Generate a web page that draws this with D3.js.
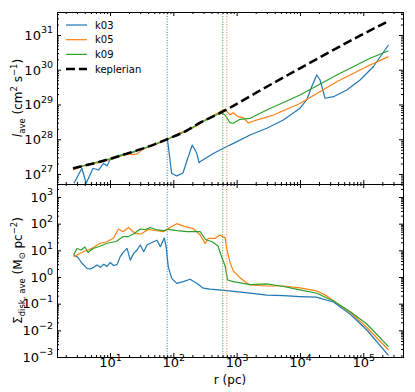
<!DOCTYPE html>
<html>
<head>
<meta charset="utf-8">
<script src="https://cdn.jsdelivr.net/npm/d3@7"></script>
<style>
body { margin: 0; background: #fff; }
svg { display: block; font-family: "DejaVu Sans", sans-serif; }
</style>
</head>
<body>
<svg id="chart" width="415" height="392"></svg>
<script>
// [r (pc), l_ave (cm^2 s^-1)]
const keplerian = [[2.6,1.46e27],[6.95,2.26e27],[23,4.38e27],[40,6.1e27],[79,9.97e27],[150,1.64e28],[265,2.99e28],
  [601,6.2e28],[1630,1.73e29],[3820,4.16e29],[1.0e4,1.1e30],[3.0e4,3.31e30],[8.9e4,9.55e30],[2.5e5,2.51e31]];

const k03Top = [[2.7,5.4e26],[3.6,1.46e27],[4.2,5.4e26],[5.4,1.46e27],[6.6,1.3e27],[7.9,2.03e27],[9.0,1.7e27],
  [9.9,2.53e27],[12.1,2.83e27],[14.6,3.52e27],[18,3.8e27],[23,4.2e27],[30,5.0e27],[43,6.3e27],[62,8.2e27],
  [74,9.6e27],[81,9.5e27],[94,1.05e27],[113,8.8e26],[142,1.07e27],[164,2.4e27],[199,6.8e27],[234,4.0e27],
  [255,2.1e27],[263,2.26e27],[428,3.9e27],[617,5.5e27],[888,7.6e27],[1630,1.32e28],[2990,2.07e28],
  [5470,3.58e28],[1.0e4,7.8e28],[1.28e4,1.35e29],[1.53e4,3.25e29],[1.84e4,7.06e29],[2.08e4,5.07e29],
  [2.49e4,1.51e29],[3.38e4,1.68e29],[5.48e4,2.61e29],[8.9e4,5.07e29],[1.44e5,1.22e30],[2.5e5,5.15e30]];

const k05Top = [[2.6,1.3e27],[4,1.75e27],[6,2.05e27],[10,2.6e27],[15,3.3e27],[20,3.8e27],[23,3.6e27],[27,3.8e27],
  [32,5.0e27],[40,5.9e27],[55,7.3e27],[70,8.6e27],[85,1.05e28],[120,1.45e28],[160,1.8e28],[200,2.1e28],
  [240,2.5e28],[300,3.4e28],[400,4.5e28],[500,5.6e28],[578,6.6e28],[656,7.2e28],[785,5.0e28],[880,5.8e28],
  [1060,4.46e28],[1270,4.2e28],[1530,2.94e28],[1950,3.47e28],[2650,4.07e28],[3800,5.0e28],[1.0e4,1.07e29],
  [3.81e4,4.53e29],[1.28e5,1.37e30],[2.5e5,2.38e30]];

const k09Top = [[2.6,1.4e27],[5,2.0e27],[10,2.72e27],[20,4.0e27],[40,6.1e27],[79,9.8e27],[150,1.62e28],
  [265,2.95e28],[450,4.8e28],[578,5.8e28],[656,4.99e28],[785,2.99e28],[886,2.88e28],[1130,3.75e28],
  [1630,4.0e28],[2990,6.95e28],[1.0e4,1.87e29],[3.81e4,7.06e29],[1.28e5,2.14e30],[2.5e5,3.53e30]];

// [r (pc), Sigma_disk,ave (Msun pc^-2)]
const k03Bot = [[2.66,6.7],[3.1,5.5],[3.6,3.3],[4.33,2.1],[4.88,2.0],[5.53,2.3],[6.24,2.8],[7.03,2.3],[7.95,3.0],
  [8.97,2.5],[10.1,3.5],[11.4,2.7],[12.9,2.9],[14.5,5.8],[16.5,8.9],[18.6,11.9],[20.9,4.3],[23.7,7.7],
  [26.7,10.3],[30.1,15.8],[34.1,8.9],[38.4,15.8],[43.3,18.4],[48.9,21],[55.2,24],[62.3,13.7],[71.9,29],
  [77,13.7],[83.2,2.4],[94.4,0.89],[113,0.58],[144,0.67],[184,0.82],[234,0.58],[298,0.38],[381,0.35],
  [700,0.31],[1630,0.25],[3000,0.21],[5500,0.2],[1.0e4,0.185],[1.8e4,0.175],[3.38e4,0.115],[6.25e4,0.04],
  [1.14e5,0.0103],[2.5e5,0.00114]];

const k05Bot = [[2.66,5.8],[3.0,6.7],[3.73,8.7],[4.5,10.3],[5.5,12.8],[6.95,18.4],[8.87,21],[11.3,28.3],
  [13.6,63],[16,50],[19.6,72],[24.8,43.5],[30.9,41],[40.5,61.5],[51.4,55.4],[69.9,50],[88.7,72],[113,100],
  [153,77],[205,66],[265,37.5],[318,18.3],[358,28.3],[457,28.3],[548,37.5],[616,32],[656,30],[700,11],
  [785,3.5],[885,1.7],[1120,0.95],[1440,0.6],[1630,0.5],[2990,0.46],[5500,0.46],[1.0e4,0.39],[1.84e4,0.3],
  [2.6e4,0.2],[3.38e4,0.13],[6.25e4,0.047],[1.14e5,0.0128],[2.5e5,0.00183]];

const k09Bot = [[2.66,6.7],[3.0,11.7],[3.48,10.3],[4.03,13.3],[4.5,8.3],[5.4,11.7],[6.95,14.2],[8.97,18.4],
  [12.5,21.4],[16,32.5],[19.3,32.5],[23.5,41],[30.1,63],[36.2,60],[43.3,72],[55.2,58],[70.4,55],[83.6,61.5],
  [114,55],[163,50],[265,50],[322,25.5],[411,21],[508,14.5],[572,6.1],[658,2.6],[720,0.77],[888,0.67],
  [1630,0.52],[2990,0.55],[5500,0.44],[1.0e4,0.33],[1.84e4,0.245],[3.38e4,0.126],[6.25e4,0.05],
  [1.14e5,0.0173],[2.5e5,0.00244]];

const seriesNames = ["k03", "k05", "k09"];
const seriesColors = ["#1f77b4", "#ff7f0e", "#2ca02c"];
const diskRadius = [80, 700, 603]; // dotted markers, one per run

const svg = d3.select("#chart");
const L = 57, R = 403, T = 12, M = 184, B = 357;

const x = d3.scaleLog().domain([1.455, 4.24e5]).range([L, R]);
const yTop = d3.scaleLog().domain([5.15e26, 4.59e31]).range([M, T]);
const yBot = d3.scaleLog().domain([1e-3, 3.07e3]).range([B, M]);

const isDecade = v => Math.abs(Math.log10(v) - Math.round(Math.log10(v))) < 1e-9;
const majors = s => s.ticks().filter(isDecade);
const minors = s => s.ticks().filter(v => !isDecade(v));

// clip regions
const defs = svg.append("defs");
defs.append("clipPath").attr("id", "clipTop").append("rect").attr("x", L).attr("y", T).attr("width", R - L).attr("height", M - T);
defs.append("clipPath").attr("id", "clipBot").append("rect").attr("x", L).attr("y", M).attr("width", R - L).attr("height", B - M);

function panel(ys, clip, runs, kep) {
  const g = svg.append("g").attr("clip-path", `url(#${clip})`);
  const line = d3.line().x(d => x(d[0])).y(d => ys(d[1]));
  runs.forEach((data, i) => {
    g.append("path").datum(data).attr("d", line)
      .attr("fill", "none").attr("stroke", seriesColors[i]).attr("stroke-width", 1.2)
      .attr("stroke-linejoin", "round");
  });
  diskRadius.forEach((r, i) => {
    g.append("line").attr("x1", x(r)).attr("x2", x(r)).attr("y1", ys.range()[0]).attr("y2", ys.range()[1])
      .attr("stroke", seriesColors[i]).attr("stroke-width", 1).attr("stroke-dasharray", "1,1.65");
  });
  if (kep) {
    g.append("path").datum(kep).attr("d", line.curve(d3.curveMonotoneX))
      .attr("fill", "none").attr("stroke", "#000").attr("stroke-width", 2.5).attr("stroke-dasharray", "9,4");
  }
}

panel(yTop, "clipTop", [k03Top, k05Top, k09Top], keplerian);
panel(yBot, "clipBot", [k03Bot, k05Bot, k09Bot], null);

// ticks (direction in, all four sides)
function tickRow(tr, axis, scale, values, size) {
  const g = svg.append("g").attr("transform", tr)
    .call(axis(scale).tickValues(values).tickSize(-size).tickFormat(""));
  g.select(".domain").remove();
  g.selectAll("text").remove();
  return g;
}
function powLabel(text, v) {
  const e = Math.round(Math.log10(v));
  text.text("10");
  text.append("tspan").attr("dy", -6.5).attr("font-size", 9.5).text(String(e).replace("-", "\u2212"));
}
function labelled(tr, axis, scale, pad) {
  const g = svg.append("g").attr("transform", tr)
    .call(axis(scale).tickValues(majors(scale)).tickSize(-4).tickPadding(pad).tickFormat(""));
  g.attr("font-family", null).attr("font-size", 13);
  g.select(".domain").remove();
  g.selectAll(".tick text").attr("fill", "#000").each(function (d) { powLabel(d3.select(this), d); });
  return g;
}

// x ticks
[[`translate(0,${T})`, d3.axisTop], [`translate(0,${M})`, d3.axisBottom], [`translate(0,${M})`, d3.axisTop]]
  .forEach(([tr, ax]) => {
    tickRow(tr, ax, x, majors(x), 4);
    tickRow(tr, ax, x, minors(x), 2);
  });
const gx = labelled(`translate(0,${B})`, d3.axisBottom, x, 2);
gx.selectAll(".tick text").attr("y", 10).attr("dy", 0);
tickRow(`translate(0,${B})`, d3.axisBottom, x, minors(x), 2);

// y ticks
[[yTop], [yBot]].forEach(([ys]) => {
  labelled(`translate(${L},0)`, d3.axisLeft, ys, 4).selectAll(".tick text").attr("dy", "0.33em");
  tickRow(`translate(${L},0)`, d3.axisLeft, ys, minors(ys), 2);
  tickRow(`translate(${R},0)`, d3.axisRight, ys, majors(ys), 4);
  tickRow(`translate(${R},0)`, d3.axisRight, ys, minors(ys), 2);
});

// frames
[[T, M], [M, B]].forEach(([a, b]) => {
  svg.append("rect").attr("x", L + 0.5).attr("y", a + 0.5).attr("width", R - L).attr("height", b - a)
    .attr("fill", "none").attr("stroke", "#000").attr("stroke-width", 1);
});

// axis labels
svg.append("text").attr("x", (L + R) / 2).attr("y", 384).attr("text-anchor", "middle")
  .attr("font-size", 12).text("r (pc)");

const yl1 = svg.append("text").attr("transform", `translate(22,${(T + M) / 2}) rotate(-90)`)
  .attr("text-anchor", "middle").attr("font-size", 12);
yl1.append("tspan").attr("font-style", "italic").text("l");
yl1.append("tspan").attr("font-size", 8.5).attr("dy", 3).text("ave");
yl1.append("tspan").attr("dy", -3).text(" (cm");
yl1.append("tspan").attr("font-size", 8.5).attr("dy", -5).text("2");
yl1.append("tspan").attr("dy", 5).text(" s");
yl1.append("tspan").attr("font-size", 8.5).attr("dy", -5).text("\u22121");
yl1.append("tspan").attr("dy", 5).text(")");

const yl2 = svg.append("text").attr("transform", `translate(22,${(M + B) / 2}) rotate(-90)`)
  .attr("text-anchor", "middle").attr("font-size", 12);
yl2.append("tspan").text("\u03a3");
yl2.append("tspan").attr("font-size", 8.5).attr("dy", 3).text("disk, ave");
yl2.append("tspan").attr("dy", -3).text(" (M");
yl2.append("tspan").attr("font-size", 8.5).attr("dy", 3).text("\u2299");
yl2.append("tspan").attr("dy", -3).text(" pc");
yl2.append("tspan").attr("font-size", 8.5).attr("dy", -5).text("\u22122");
yl2.append("tspan").attr("dy", 5).text(")");

// legend
const legendItems = seriesNames.map((n, i) => ({ name: n, color: seriesColors[i], width: 1.2, dash: null }))
  .concat([{ name: "keplerian", color: "#000", width: 2.5, dash: "9,4" }]);
const lg = svg.append("g").attr("transform", `translate(66,25)`);
legendItems.forEach((d, i) => {
  const row = lg.append("g").attr("transform", `translate(0,${i * 14.7})`);
  row.append("line").attr("x1", 0).attr("x2", 21).attr("stroke", d.color)
    .attr("stroke-width", d.width).attr("stroke-dasharray", d.dash);
  row.append("text").attr("x", 29).attr("dy", "0.35em").attr("font-size", 10).text(d.name);
});
</script>
</body>
</html>
